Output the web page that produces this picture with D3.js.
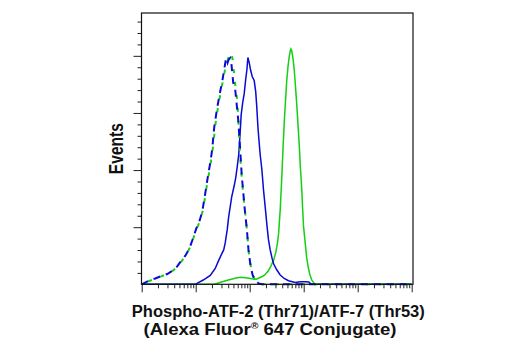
<!DOCTYPE html>
<html>
<head>
<meta charset="utf-8">
<script src="https://cdn.jsdelivr.net/npm/d3@7/dist/d3.min.js"></script>
<style>
  html, body { margin: 0; padding: 0; background: #fff; }
  svg { display: block; }
  .lbl { font-family: "Liberation Sans Narrow", "Liberation Sans", Arial, sans-serif; font-weight: bold; fill: #111; }
</style>
</head>
<body>
<svg id="chart" width="520" height="350"></svg>
<script>
// Fluorescence intensity (log axis) and event counts for each histogram.

// Control, blue dashed
const ctrlBlueX = [1, 1.32, 1.78, 2.20, 2.97, 3.67, 4.54, 5.39, 6.39, 7.58, 8.99, 10.2, 11.6, 13.2, 15.0, 17.0, 18.6, 20.2, 22.0, 25.0, 28.4, 31.0, 33.7, 35.9, 37.5, 39.1, 40.8, 43.5, 45.4, 49.5, 53.9, 57.9, 62.0, 63.9, 66.7, 71.1, 80.1, 88.8, 95.0, 102, 113, 126, 146, 170, 100000];
const ctrlBlueY = [0, 2.3, 4.1, 5.5, 7.2, 9.3, 12.5, 16.4, 19.9, 24.8, 32.5, 38.8, 43.7, 50.7, 63.4, 76.7, 85.1, 94.3, 109.7, 123.7, 135.0, 142.0, 150.4, 156.7, 158.5, 155.3, 157.4, 158.5, 156.0, 141.3, 136.4, 124.6, 113.2, 104.8, 94.3, 76.7, 54.5, 38.1, 24.1, 14.9, 6.5, 3.0, 0.6, 0, 0];

// Control, green dashed
const ctrlGreenX = [1, 1.38, 1.86, 2.30, 3.10, 3.83, 4.74, 5.62, 6.67, 7.91, 9.38, 10.7, 12.1, 13.8, 15.6, 17.8, 19.4, 21.1, 23.0, 26.1, 29.7, 32.3, 35.2, 38.3, 41.7, 45.4, 48.4, 51.6, 55.1, 58.7, 61.2, 63.9, 66.7, 71.7, 80.1, 88.8, 95.0, 102, 113, 126, 144, 170, 100000];
const ctrlGreenY = [0, 2.3, 4.1, 5.5, 7.6, 9.7, 12.8, 16.7, 20.6, 26.2, 33.9, 39.5, 45.1, 52.8, 66.2, 78.8, 87.2, 97.1, 111.1, 125.1, 136.4, 143.4, 151.1, 156.0, 160.2, 162.3, 157.4, 146.9, 136.4, 129.3, 117.4, 103.4, 89.3, 73.2, 54.2, 38.1, 24.1, 14.9, 6.5, 2.7, 0.6, 0, 0];

// Stained, blue solid
const stainBlueX = [1, 9.79, 13.8, 18.6, 23.0, 26.4, 30.3, 33.0, 35.2, 38.3, 40.8, 46.4, 51.6, 55.1, 58.7, 62.6, 65.3, 69.6, 74.2, 79.1, 84.3, 88.8, 92.6, 97.9, 104.4, 111.2, 121.1, 129.2, 134.8, 141.9, 148.1, 156.4, 168.2, 180.1, 193.6, 208.2, 222.9, 239.7, 261.0, 278.3, 318.9, 367.2, 435.4, 523.0, 695.9, 861.3, 1066, 1238, 1377, 1633, 100000];
const stainBlueY = [0, 0, 3.0, 6.2, 11.1, 16.4, 21.3, 24.1, 29.0, 38.1, 47.2, 61.3, 69.0, 74.6, 82.3, 90.7, 101.3, 118.8, 127.2, 133.5, 143.4, 150.4, 158.8, 155.3, 149.7, 145.5, 142.7, 134.9, 125.1, 110.4, 101.3, 90.7, 80.2, 66.2, 54.2, 41.6, 31.1, 24.1, 17.8, 14.2, 10.0, 6.5, 4.1, 2.5, 1.3, 1.8, 1.75, 1.6, 0.2, 0, 0];

// Stained, green solid
const stainGreenX = [1, 22.0, 26.1, 32.3, 40.0, 49.5, 58.7, 69.6, 82.5, 97.9, 116, 132, 156.4, 186, 220, 245, 278, 303, 327, 344, 367, 383, 400, 417, 439, 458, 484, 512, 539, 567, 579, 599, 631, 667, 696, 748, 801, 836, 861, 899, 926, 958, 991, 1066, 1137, 1211, 1292, 1406, 1564, 1778, 100000];
const stainGreenY = [0, 0, 0.9, 2.0, 3.0, 3.9, 4.6, 4.9, 4.6, 4.2, 3.7, 3.5, 4.8, 6.2, 9.3, 12.5, 17.1, 22.0, 29.0, 36.0, 52.1, 66.2, 81.6, 97.8, 115.3, 127.2, 142.0, 152.5, 159.5, 163.7, 164.8, 163.7, 158.8, 150.4, 141.3, 124.4, 106.2, 94.3, 83.7, 73.2, 64.1, 52.1, 40.9, 29.0, 18.5, 12.1, 7.2, 3.0, 0.6, 0, 0];

// Axis tick values
const xMajorTicks = [1, 10, 100, 1000, 10000, 100000];
const xMinorTicks = [1, 10, 100, 1000, 10000].flatMap(d => [2, 3, 4, 5, 6, 7, 8, 9].map(m => m * d));
const yMajorTicks = [40, 80, 120, 160];
const yMinorTicks = d3.range(8, 190, 8).filter(v => v % 40 !== 0);

const xLabel1 = "Phospho-ATF-2 (Thr71)/ATF-7 (Thr53)";
const xLabel2a = "(Alexa Fluor";
const xLabel2b = "®";
const xLabel2c = " 647 Conjugate)";
const yLabel = "Events";

const BLUE = "#0a0ad2";
const GREEN = "#14d014";

const svg = d3.select("#chart");
const frame = { left: 141.5, right: 413, top: 13, bottom: 284.3 };

const x = d3.scaleLog().domain([1, 100000]).range([141.7, 411.7]);
const y = d3.scaleLinear().domain([0, 190]).range([frame.bottom, frame.top]);

const zip = (xs, ys) => xs.map((v, i) => [v, ys[i]]);
const line = d3.line().x(d => x(d[0])).y(d => y(d[1])).curve(d3.curveLinear);

// Ticks (outward)
function tickAxis(axis, g) {
  g.call(axis);
  g.select(".domain").remove();
  g.selectAll(".tick line").attr("stroke", "#222").attr("stroke-width", 1);
  g.selectAll(".tick text").remove();
}
tickAxis(d3.axisLeft(y).tickValues(yMajorTicks).tickSize(8).tickFormat(""),
  svg.append("g").attr("transform", `translate(${frame.left},0)`));
tickAxis(d3.axisLeft(y).tickValues(yMinorTicks).tickSize(4).tickFormat(""),
  svg.append("g").attr("transform", `translate(${frame.left},0)`));
tickAxis(d3.axisBottom(x).tickValues(xMajorTicks).tickSize(8).tickFormat(""),
  svg.append("g").attr("transform", `translate(0,${frame.bottom})`));
tickAxis(d3.axisBottom(x).tickValues(xMinorTicks).tickSize(4).tickFormat(""),
  svg.append("g").attr("transform", `translate(0,${frame.bottom})`));

// Histograms
const plot = svg.append("g");
plot.append("path").attr("d", line(zip(stainGreenX, stainGreenY)))
  .attr("fill", "none").attr("stroke", GREEN).attr("stroke-width", 1.5);
plot.append("path").attr("d", line(zip(stainBlueX, stainBlueY)))
  .attr("fill", "none").attr("stroke", BLUE).attr("stroke-width", 1.5);
plot.append("path").attr("d", line(zip(ctrlGreenX, ctrlGreenY)))
  .attr("fill", "none").attr("stroke", GREEN).attr("stroke-width", 2)
  .attr("stroke-dasharray", "4 9").attr("stroke-dashoffset", 6);
plot.append("path").attr("d", line(zip(ctrlBlueX, ctrlBlueY)))
  .attr("fill", "none").attr("stroke", BLUE).attr("stroke-width", 2)
  .attr("stroke-dasharray", "7 6");

// Frame
svg.append("rect")
  .attr("x", frame.left).attr("y", frame.top)
  .attr("width", frame.right - frame.left).attr("height", frame.bottom - frame.top)
  .attr("fill", "none").attr("stroke", "#111").attr("stroke-width", 1.2);

// Axis titles
svg.append("text").attr("class", "lbl")
  .attr("transform", `translate(123,${(frame.top + frame.bottom) / 2}) rotate(-90)`)
  .attr("text-anchor", "middle").attr("font-size", 21)
  .attr("textLength", 51).attr("lengthAdjust", "spacingAndGlyphs")
  .text(yLabel);

svg.append("text").attr("class", "lbl")
  .attr("x", 278.3).attr("y", 316.5).attr("text-anchor", "middle").attr("font-size", 16)
  .attr("textLength", 293).attr("lengthAdjust", "spacingAndGlyphs")
  .text(xLabel1);

const t2 = svg.append("text").attr("class", "lbl")
  .attr("x", 270).attr("y", 335).attr("text-anchor", "middle").attr("font-size", 16)
  .attr("textLength", 253).attr("lengthAdjust", "spacingAndGlyphs");
t2.append("tspan").text(xLabel2a);
t2.append("tspan").attr("font-size", 9).attr("dy", -6).text(xLabel2b);
t2.append("tspan").attr("dy", 6).text(xLabel2c);
</script>
</body>
</html>
